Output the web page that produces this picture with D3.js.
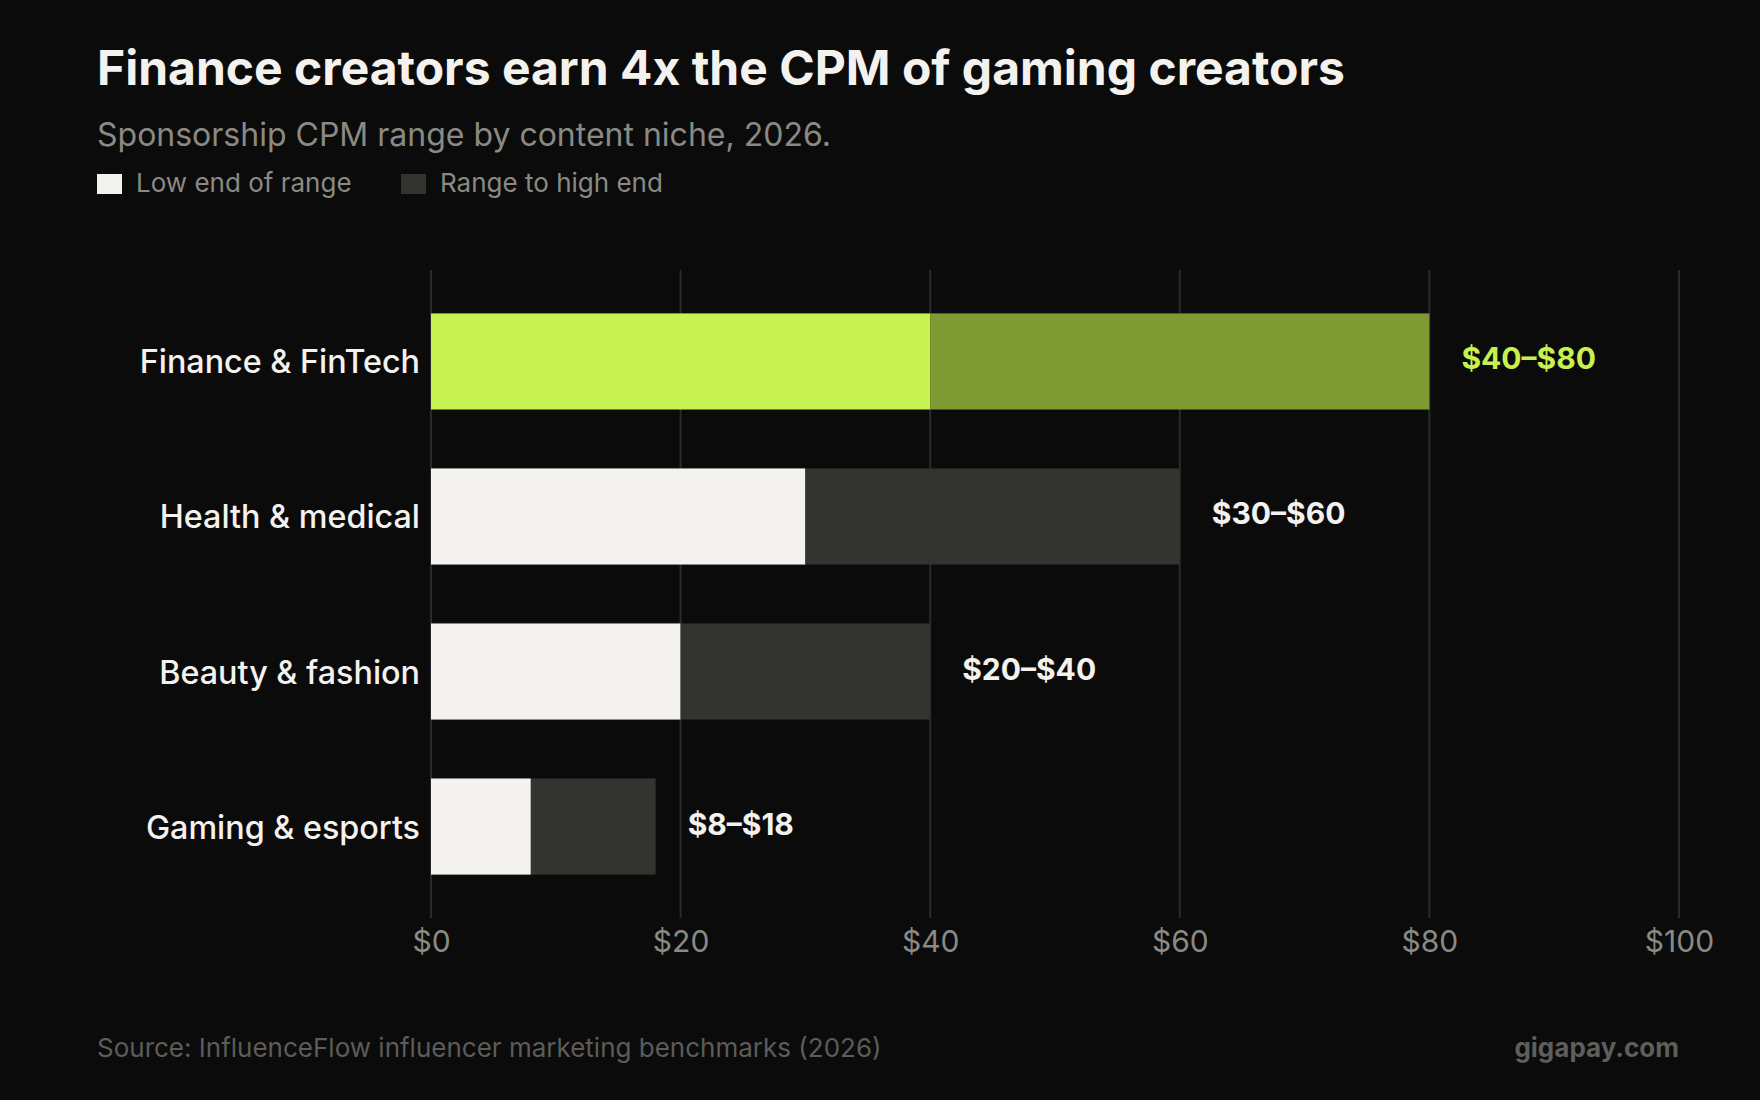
<!DOCTYPE html>
<html>
<head>
<meta charset="utf-8">
<script src="https://cdn.jsdelivr.net/npm/d3@7"></script>
<style>
  html, body { margin: 0; padding: 0; background: #0b0b0b; }
  svg { display: block; font-family: Inter, "Noto Sans", sans-serif; }
</style>
</head>
<body>
<svg id="chart" width="1760" height="1100"></svg>
<script>
// data
var niches = ["Finance & FinTech", "Health & medical", "Beauty & fashion", "Gaming & esports"];
var lowEnd = [40, 30, 20, 8];
var highEnd = [80, 60, 40, 18];
var xTicks = [0, 20, 40, 60, 80, 100];
var highlight = "Finance & FinTech";

var W = 1760, H = 1100;
var margin = {left: 431, right: 81, top: 270, bottom: 182};

var svg = d3.select("#chart");
svg.append("rect").attr("width", W).attr("height", H).attr("fill", "#0b0b0b");

// title block
svg.append("text")
  .attr("x", 97).attr("y", 85)
  .attr("fill", "#f3f2ee")
  .style("font-size", "48px").style("font-weight", 700)
  .text("Finance creators earn 4x the CPM of gaming creators");

svg.append("text")
  .attr("x", 97).attr("y", 146)
  .attr("fill", "#8a8a85")
  .style("font-size", "32px")
  .text("Sponsorship CPM range by content niche, 2026.");

// legend
var legend = [{label: "Low end of range", color: "#f3f2ee", x: 97},
              {label: "Range to high end", color: "#33332f", x: 401}];
var lg = svg.selectAll(".lg").data(legend).enter().append("g").attr("class", "lg");
lg.append("rect")
  .attr("x", function(d){ return d.x; }).attr("y", 174)
  .attr("width", 25).attr("height", 20)
  .attr("fill", function(d){ return d.color; });
lg.append("text")
  .attr("x", function(d){ return d.x + 39; }).attr("y", 192)
  .attr("fill", "#8a8a85")
  .style("font-size", "26px")
  .text(function(d){ return d.label; });

// scales
var x = d3.scaleLinear().domain([0, 100]).range([margin.left, W - margin.right]);
var y = d3.scaleBand().domain(niches)
  .range([margin.top, H - margin.bottom])
  .paddingInner(0.38).paddingOuter(0.28);

// grid lines
svg.append("g").selectAll("line").data(xTicks).enter().append("line")
  .attr("x1", function(d){ return x(d); }).attr("x2", function(d){ return x(d); })
  .attr("y1", margin.top).attr("y2", H - margin.bottom)
  .attr("stroke", "#2a2a2a").attr("stroke-width", 2);

// x axis labels
var xAxis = d3.axisBottom(x).tickValues(xTicks).tickSize(0).tickPadding(0)
  .tickFormat(function(d){ return "$" + d; });
var xg = svg.append("g").attr("transform", "translate(0," + (H - margin.bottom) + ")").call(xAxis);
xg.select(".domain").remove();
xg.selectAll("text")
  .attr("y", 34).attr("dy", 0)
  .attr("fill", "#8a8a85")
  .style("font-size", "30px")
  .style("font-family", "Inter, 'Noto Sans', sans-serif");

var rows = niches.map(function(n, i){ return {name: n, low: lowEnd[i], high: highEnd[i]}; });

// bars
var bars = svg.append("g").selectAll("g").data(rows).enter().append("g");
bars.append("rect")
  .attr("x", x(0))
  .attr("y", function(d){ return y(d.name); })
  .attr("width", function(d){ return x(d.low) - x(0); })
  .attr("height", y.bandwidth())
  .attr("fill", function(d){ return d.name === highlight ? "#c6f150" : "#f3f2ee"; });
bars.append("rect")
  .attr("x", function(d){ return x(d.low); })
  .attr("y", function(d){ return y(d.name); })
  .attr("width", function(d){ return x(d.high) - x(d.low); })
  .attr("height", y.bandwidth())
  .attr("fill", function(d){ return d.name === highlight ? "#7f9a32" : "#33332f"; });

// value labels
bars.append("text")
  .attr("x", function(d){ return x(d.high) + 32; })
  .attr("y", function(d){ return y(d.name) + y.bandwidth() / 2 + 8; })
  .attr("fill", function(d){ return d.name === highlight ? "#c6f150" : "#f3f2ee"; })
  .style("font-size", "30px").style("font-weight", 700)
  .text(function(d){ return "$" + d.low + "\u2013$" + d.high; });

// category labels
var yAxis = d3.axisLeft(y).tickSize(0).tickPadding(11);
var yg = svg.append("g").attr("transform", "translate(" + margin.left + ",0)").call(yAxis);
yg.select(".domain").remove();
yg.selectAll("text")
  .attr("dy", 0).attr("y", 12)
  .attr("fill", "#f3f2ee")
  .style("font-size", "32.3px").style("font-weight", 500)
  .style("font-family", "Inter, 'Noto Sans', sans-serif");

// footer
svg.append("text")
  .attr("x", 97).attr("y", 1057)
  .attr("fill", "#5c5c59")
  .style("font-size", "26px")
  .text("Source: InfluenceFlow influencer marketing benchmarks (2026)");

svg.append("text")
  .attr("x", 1679).attr("y", 1057)
  .attr("text-anchor", "end")
  .attr("fill", "#5e5e5b")
  .style("font-size", "26px").style("font-weight", 700)
  .text("gigapay.com");
</script>
</body>
</html>
